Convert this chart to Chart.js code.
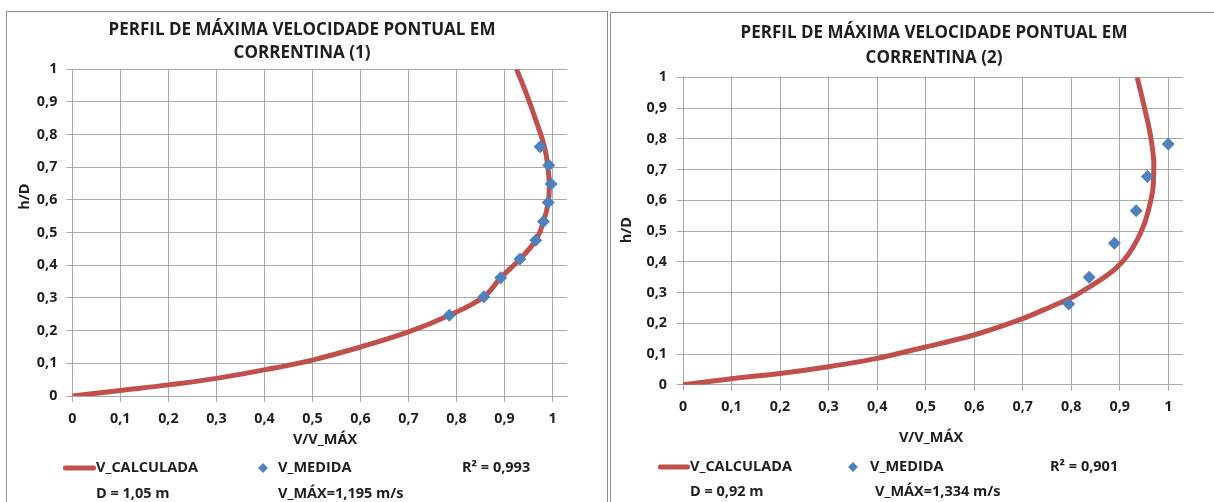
<!DOCTYPE html>
<html>
<head>
<meta charset="utf-8">
<script src="https://cdn.jsdelivr.net/npm/chart.js@4.4.1/dist/chart.umd.min.js"></script>
<style>
  html, body { margin: 0; padding: 0; background: #fff; }
  body { width: 1214px; height: 502px; position: relative; overflow: hidden; font-family: 'Open Sans', sans-serif; }
  .frame { position: absolute; border: 1px solid #8c8c8c; box-sizing: border-box; }
  .wrap { position: absolute; }
  .wrap canvas { display: block; }
  .lg { position: absolute; font: bold 14.5px 'Open Sans', sans-serif; color: #1e1e1e; white-space: nowrap; line-height: 1; transform: translateY(-52%); }
  .sw-line { position: absolute; height: 5px; background: #C0504D; border-radius: 2px; transform: translateY(-50%); }
  .sw-dia { position: absolute; width: 7px; height: 7px; background: #4F81BD; transform: translate(-50%, -50%) rotate(45deg); }
</style>
</head>
<body>
<div class="frame" style="left:6px; top:11px; width:602px; height:520px;"></div>
<div class="frame" style="left:610px; top:12px; width:620px; height:520px;"></div>
<div class="wrap" style="left:7px; top:12px;"><canvas id="c1" width="600" height="490"></canvas></div>
<div class="wrap" style="left:612px; top:13px;"><canvas id="c2" width="602" height="489"></canvas></div>

<script>
// Tick labels shared by both axes (Portuguese decimal comma)
const axisTickLabels = ['0', '0,1', '0,2', '0,3', '0,4', '0,5', '0,6', '0,7', '0,8', '0,9', '1'];

// Correntina (1): calculated profile
const calc1V = [0, 0.1, 0.2, 0.3, 0.4, 0.5, 0.6, 0.7, 0.785, 0.857, 0.892, 0.932, 0.965, 0.981, 0.991, 0.993, 0.990, 0.983, 0.965, 0.945, 0.925];
const calc1H = [0, 0.017, 0.034, 0.054, 0.080, 0.110, 0.150, 0.196, 0.247, 0.304, 0.362, 0.419, 0.477, 0.534, 0.592, 0.649, 0.702, 0.763, 0.845, 0.927, 1.0];
// Correntina (1): measured points
const meas1V = [0.974, 0.992, 0.997, 0.991, 0.981, 0.965, 0.932, 0.892, 0.857, 0.785];
const meas1H = [0.763, 0.706, 0.649, 0.592, 0.534, 0.477, 0.419, 0.362, 0.304, 0.247];

// Correntina (2): calculated profile
const calc2V = [0, 0.1, 0.2, 0.3, 0.4, 0.5, 0.6, 0.7, 0.758, 0.800, 0.837, 0.865, 0.893, 0.917, 0.936, 0.951, 0.961, 0.968, 0.970, 0.970, 0.966, 0.960, 0.952, 0.944, 0.936];
const calc2H = [0, 0.020, 0.037, 0.059, 0.086, 0.123, 0.162, 0.215, 0.254, 0.283, 0.318, 0.346, 0.380, 0.422, 0.471, 0.525, 0.579, 0.633, 0.682, 0.731, 0.785, 0.839, 0.894, 0.948, 1.0];
// Correntina (2): measured points
const meas2V = [1.0, 0.957, 0.934, 0.889, 0.837, 0.795];
const meas2H = [0.783, 0.677, 0.566, 0.460, 0.350, 0.263];

// Titles and legend annotations
const titles1 = ['PERFIL DE MÁXIMA VELOCIDADE PONTUAL EM', 'CORRENTINA (1)'];
const titles2 = ['PERFIL DE MÁXIMA VELOCIDADE PONTUAL EM', 'CORRENTINA (2)'];
const notes1 = { r2: 'R² = 0,993', d: 'D = 1,05 m', vmax: 'V_MÁX=1,195 m/s' };
const notes2 = { r2: 'R² = 0,901', d: 'D = 0,92 m', vmax: 'V_MÁX=1,334 m/s' };

const TEXT = '#1e1e1e';
const GRID = '#a9a9a9';
const FONT = 'Open Sans';

const toPoints = (xs, ys) => xs.map((x, i) => ({ x: x, y: ys[i] }));
const tickText = v => {
  const i = Math.round(v * 10);
  return Math.abs(v * 10 - i) < 1e-6 ? (axisTickLabels[i] ?? '') : '';
};

// Draws the two-line heading plus the axis captions ("V/V_MÁX" below, rotated "h/D" at the left)
const captions = {
  id: 'captions',
  afterDraw(chart, args, o) {
    const { ctx, chartArea, scales } = chart;
    ctx.save();
    ctx.fillStyle = TEXT;
    ctx.textAlign = 'center';
    ctx.textBaseline = 'middle';
    ctx.font = 'bold ' + o.titleSize + 'px "' + FONT + '"';
    o.title.forEach((line, i) => ctx.fillText(line, o.titleX, o.titleY + i * o.titleStep));
    ctx.font = 'bold ' + o.size + 'px "' + FONT + '"';
    ctx.fillText(o.xText, o.xCenter, chartArea.bottom + o.xGap);
    ctx.translate(o.yLeft, scales.y.getPixelForValue(o.yAt));
    ctx.rotate(-Math.PI / 2);
    ctx.fillText(o.yText, 0, 0);
    ctx.restore();
  }
};

function buildChart(id, L) {
  const gridOpts = { color: GRID, tickLength: 6, drawTicks: true, lineWidth: 1 };
  const tickFont = { family: FONT, weight: 'bold', size: 14.3 };
  return new Chart(document.getElementById(id), {
    type: 'scatter',
    data: {
      datasets: [
        {
          label: 'V_MEDIDA',
          data: L.meas,
          pointStyle: 'rectRot',
          pointRadius: 6.5,
          backgroundColor: '#4F81BD',
          borderColor: '#4F81BD',
          borderWidth: 0,
          order: 0
        },
        {
          label: 'V_CALCULADA',
          data: L.calc,
          showLine: true,
          pointRadius: 0,
          borderColor: '#C0504D',
          borderWidth: 5,
          tension: L.tension,
          fill: false,
          order: 1
        }
      ]
    },
    options: {
      responsive: false,
      animation: false,
      devicePixelRatio: 1,
      layout: { padding: { left: L.padL, right: L.padR, top: L.padT, bottom: L.padB } },
      plugins: {
        legend: { display: false },
        tooltip: { enabled: false },
        title: { display: false },
        captions: L.captions
      },
      scales: {
        x: {
          type: 'linear',
          min: 0,
          max: 1.03,
          afterFit(s) { s.height = L.xH; },
          grid: gridOpts,
          border: { color: GRID },
          ticks: {
            stepSize: 0.1, includeBounds: false, autoSkip: false, maxRotation: 0,
            padding: L.xPad, color: TEXT, font: tickFont, callback: tickText
          }
        },
        y: {
          type: 'linear',
          min: 0,
          max: 1,
          afterFit(s) { s.width = L.yW; },
          grid: gridOpts,
          border: { color: GRID },
          ticks: {
            stepSize: 0.1, includeBounds: false, autoSkip: false,
            padding: L.yPad, color: TEXT, font: tickFont, callback: tickText
          }
        }
      }
    },
    plugins: [captions]
  });
}

buildChart('c1', {
  calc: toPoints(calc1V, calc1H),
  meas: toPoints(meas1V, meas1H),
  tension: 0.4,
  padL: 10, padR: 40, padT: 57.3, padB: 66, yW: 55.3, xH: 40,
  xPad: 8, yPad: 9,
  captions: {
    title: titles1, titleSize: 17, titleX: 295, titleY: 18, titleStep: 23,
    size: 14.5, xText: 'V/V_MÁX', xCenter: 318, xGap: 44, yText: 'h/D', yLeft: 17.5, yAt: 0.61
  }
});

buildChart('c2', {
  calc: toPoints(calc2V, calc2H),
  meas: toPoints(meas2V, meas2H),
  tension: 0.3,
  padL: 20, padR: 31.2, padT: 64.3, padB: 77.2, yW: 51, xH: 40,
  xPad: 8, yPad: 10,
  captions: {
    title: titles2, titleSize: 17, titleX: 322, titleY: 20, titleStep: 25,
    size: 14.5, xText: 'V/V_MÁX', xCenter: 319, xGap: 53, yText: 'h/D', yLeft: 15, yAt: 0.503
  }
});

// Legend rows under each chart
function addEl(cls, css, text) {
  const el = document.createElement('div');
  el.className = cls;
  Object.assign(el.style, css);
  if (text) el.textContent = text;
  document.body.appendChild(el);
}
function legend(p, notes) {
  addEl('sw-line', { left: p.lineX + 'px', width: p.lineW + 'px', top: p.row1 + 'px' });
  addEl('lg', { left: p.textX + 'px', top: p.row1 + 'px' }, 'V_CALCULADA');
  addEl('sw-dia', { left: p.diaX + 'px', top: p.row1 + 'px' });
  addEl('lg', { left: p.medX + 'px', top: p.row1 + 'px' }, 'V_MEDIDA');
  addEl('lg', { left: p.r2X + 'px', top: p.row1 + 'px' }, notes.r2);
  addEl('lg', { left: p.textX + 'px', top: p.row2 + 'px' }, notes.d);
  addEl('lg', { left: p.vmaxX + 'px', top: p.row2 + 'px' }, notes.vmax);
}
legend({ lineX: 63, lineW: 33, textX: 96, diaX: 263, medX: 278, r2X: 462, vmaxX: 278, row1: 468, row2: 494 }, notes1);
legend({ lineX: 658, lineW: 32, textX: 690, diaX: 853, medX: 870, r2X: 1050, vmaxX: 875, row1: 467, row2: 492 }, notes2);
</script>
</body>
</html>
